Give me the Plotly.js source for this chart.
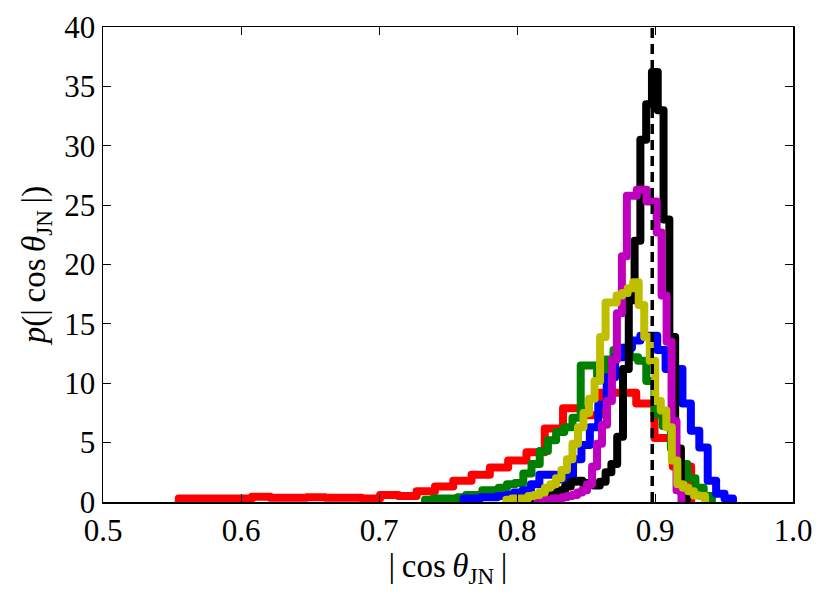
<!DOCTYPE html>
<html lang="en">
  <head>
    <meta charset="UTF-8" />
    <title>cos theta JN histogram</title>
    <script src="https://cdn.plot.ly/plotly-3.0.1.min.js"></script>
    <style>
      html,
      body {
        margin: 0;
        padding: 0;
        background: #ffffff;
      }
      #chart {
        width: 830px;
        height: 594px;
      }
      /* matplotlib step outlines have rounded corners */
      #chart .hist .js-line {
        stroke-linejoin: round !important;
      }
    </style>
  </head>
  <body>
    <div id="chart"></div>
    <script>
      // histogram counts, one array per run
      const redStart = 0.5549;
      const redWidth = 0.01326;
      const redCounts = [
        0.3, 0.3, 0.3, 0.3, 0.45, 0.35, 0.35, 0.4, 0.35, 0.35, 0.3, 0.6, 0.5,
        0.9, 1.3, 1.8, 2.3, 2.9, 3.5, 4.2, 6.2, 7.9, 7.3, 9.2, 9.2, 8.3, 5.4,
        3.0,
      ];

      const greenStart = 0.7333;
      const greenWidth = 0.00594;
      const greenCounts = [
        0.2, 0.3, 0.3, 0.3, 0.4, 0.6, 0.6, 1.0, 1.0, 1.2, 1.5, 1.6, 2.4, 3.2,
        4.3, 5.2, 5.9, 6.3, 7.1, 11.5, 11.5, 10.5, 12.0, 12.8, 13.0, 12.2,
        11.9, 10.2, 7.4, 6.4, 4.5, 3.2, 2.0, 1.2, 0.5,
      ];

      const blueStart = 0.7613;
      const blueWidth = 0.0061;
      const blueCounts = [
        0.3, 0.3, 0.4, 0.4, 0.5, 0.6, 0.8, 1.0, 1.5, 2.3, 2.3, 1.9, 2.1, 3.6,
        4.8, 6.3, 8.2, 10.5, 12.2, 13.0, 13.6, 14.0, 14.0, 12.8, 11.2, 11.2,
        8.3, 6.0, 4.6, 1.8, 0.7, 0.3,
      ];

      const blackStart = 0.797;
      const blackWidth = 0.0042;
      const blackCounts = [
        0.2, 0.2, 0.3, 0.3, 0.4, 0.5, 0.6, 0.8, 1.0, 1.3, 1.7, 1.8, 1.6, 1.5,
        1.4, 1.7, 2.5, 3.2, 5.5, 11.2, 17, 22, 30.5, 33.5, 36.2, 33, 23.8, 13.9,
        4.5, 0.8,
      ];

      const magentaStart = 0.8148;
      const magentaWidth = 0.0036;
      const magentaCounts = [
        0.1, 0.2, 0.2, 0.3, 0.3, 0.4, 0.5, 0.6, 0.8, 1.0, 1.5, 3.0, 4.9, 6.5,
        8.5, 12, 15.9, 20.7, 25.8, 25.8, 26.3, 26.3, 25.3, 25.3, 22.7, 17.4,
        13.5, 6.8, 1.0,
      ];

      const yellowStart = 0.7922;
      const yellowWidth = 0.004;
      const yellowCounts = [
        0.2, 0.3, 0.3, 0.3, 0.5, 0.6, 0.8, 1.2, 1.5, 2.0, 2.7, 3.6, 4.9, 6.3,
        7.5, 8.7, 10.2, 13.9, 16.8, 16.8, 17.4, 17.6, 18.0, 18.5, 16.6, 13.9,
        11.9, 8.5, 7.7, 6.3, 3.5, 1.5, 1.2, 0.9, 0.55, 0.5,
      ];

      const trueValue = 0.898;
      const xTicks = [0.5, 0.6, 0.7, 0.8, 0.9, 1.0];
      const xTickLabels = ["0.5", "0.6", "0.7", "0.8", "0.9", "1.0"];
      const yTicks = [0, 5, 10, 15, 20, 25, 30, 35, 40];

      // outline of a step histogram: bin edges + counts, closed to zero
      function stepTrace(start, width, counts, color) {
        const x = [start];
        const y = [0];
        for (let i = 0; i <= counts.length; i++) {
          x.push(start + width * i);
          y.push(i < counts.length ? counts[i] : 0);
        }
        return {
          x: x,
          y: y,
          type: "scatter",
          mode: "lines",
          line: { shape: "hv", color: color, width: 8 },
          hoverinfo: "skip",
        };
      }

      const data = [
        stepTrace(redStart, redWidth, redCounts, "#ff0000"),
        stepTrace(greenStart, greenWidth, greenCounts, "#008000"),
        stepTrace(blueStart, blueWidth, blueCounts, "#0000ff"),
        stepTrace(blackStart, blackWidth, blackCounts, "#000000"),
        stepTrace(magentaStart, magentaWidth, magentaCounts, "#bf00bf"),
        stepTrace(yellowStart, yellowWidth, yellowCounts, "#bfbf00"),
        {
          x: [trueValue, trueValue],
          y: [0, 40],
          type: "scatter",
          mode: "lines",
          line: { color: "#000000", width: 3.5, dash: "10px,6px" },
          hoverinfo: "skip",
        },
      ];

      const serif = "Liberation Serif, Times New Roman, serif";
      const tickFont = { family: serif, size: 31, color: "#000000" };
      const titleFont = { family: serif, size: 33, color: "#000000" };
      const thin = "\u2009";

      const layout = {
        width: 830,
        height: 594,
        margin: { l: 103, r: 37, t: 27, b: 92 },
        paper_bgcolor: "#ffffff",
        plot_bgcolor: "#ffffff",
        showlegend: false,
        font: tickFont,
        xaxis: {
          range: [0.5, 1.0],
          tickvals: xTicks,
          ticktext: xTickLabels,
          ticks: "inside",
          ticklen: 8,
          tickwidth: 1,
          tickcolor: "#000000",
          showline: true,
          linecolor: "#000000",
          linewidth: 1.5,
          mirror: "ticks",
          showgrid: false,
          zeroline: false,
          tickfont: tickFont,
          title: {
            text: "|" + thin + "cos" + thin + "<i>θ</i><sub>JN</sub>" + thin + "|",
            font: titleFont,
            standoff: 0,
          },
        },
        yaxis: {
          range: [0, 40],
          tickvals: yTicks,
          ticks: "inside",
          ticklen: 8,
          tickwidth: 1,
          tickcolor: "#000000",
          showline: true,
          linecolor: "#000000",
          linewidth: 1.5,
          mirror: "ticks",
          showgrid: false,
          zeroline: false,
          tickfont: tickFont,
          title: {
            text: "<i>p</i>(|" + thin + "cos" + thin + "<i>θ</i><sub>JN</sub>" + thin + "|)",
            font: titleFont,
            standoff: 8,
          },
        },
      };

      Plotly.newPlot("chart", data, layout, { staticPlot: true }).then(function (gd) {
        gd.querySelectorAll(".scatterlayer .trace").forEach(function (g, i) {
          if (i < 6) g.classList.add("hist");
        });
      });
    </script>
  </body>
</html>
